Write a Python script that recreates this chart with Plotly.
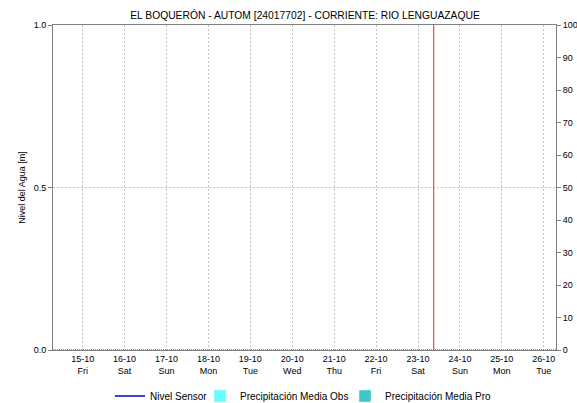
import plotly.graph_objects as go

# ---- data ----
title_text = "EL BOQUERÓN - AUTOM [24017702] - CORRIENTE: RIO LENGUAZAQUE"
day_dates = ["2021-10-15", "2021-10-16", "2021-10-17", "2021-10-18", "2021-10-19", "2021-10-20",
             "2021-10-21", "2021-10-22", "2021-10-23", "2021-10-24", "2021-10-25", "2021-10-26"]
day_labels = ["15-10", "16-10", "17-10", "18-10", "19-10", "20-10",
              "21-10", "22-10", "23-10", "24-10", "25-10", "26-10"]
day_names = ["Fri", "Sat", "Sun", "Mon", "Tue", "Wed", "Thu", "Fri", "Sat", "Sun", "Mon", "Tue"]
x_range = ["2021-10-14 07:00", "2021-10-26 07:00"]
now_marker = "2021-10-23 09:00"

# no readings shown in the chart (all missing)
nivel_y = [None] * len(day_dates)
precip_obs_y = [None] * len(day_dates)
precip_pro_y = [None] * len(day_dates)

left_ticks = [0.0, 0.5, 1.0]
right_ticks = list(range(0, 101, 10))

FONT = "Liberation Sans, Arial, sans-serif"
AXIS_C = "#808080"
GRID_C = "#c4c4c4"
W, H = 577, 403

fig = go.Figure()
fig.add_trace(go.Scatter(x=day_dates, y=nivel_y, mode="lines", name="Nivel Sensor",
                         line=dict(color="#0000cc", width=1.5), legend="legend"))
fig.add_trace(go.Bar(x=day_dates, y=precip_obs_y, name="Precipitación Media Obs",
                     marker=dict(color="#66ffff"), yaxis="y2", legend="legend2"))
fig.add_trace(go.Bar(x=day_dates, y=precip_pro_y, name="Precipitación Media Pro",
                     marker=dict(color="#3cc8c8"), yaxis="y2", legend="legend3"))

# zero baseline (dotted) and current-time marker
fig.add_shape(type="line", xref="paper", x0=0, x1=1, yref="y", y0=0, y1=0,
              line=dict(color="#222222", width=1, dash="1px,1px"), layer="above")
fig.add_shape(type="line", xref="x", x0=now_marker, x1=now_marker, yref="paper", y0=0, y1=1,
              line=dict(color="#ff2020", width=1), layer="above")


def leg(text_start_px):
    return dict(orientation="h", x=(text_start_px - 40) / W, xanchor="left", xref="container",
                y=1 - 396 / H, yref="container", yanchor="middle",
                font=dict(size=10, family=FONT), itemwidth=30, tracegroupgap=0,
                bgcolor="rgba(0,0,0,0)", borderwidth=0)


fig.update_layout(
    width=W, height=H,
    margin=dict(l=53, r=21, t=25, b=53, autoexpand=False),
    paper_bgcolor="white", plot_bgcolor="white",
    font=dict(family=FONT, size=9, color="#000000"),
    title=dict(text=title_text, x=305 / W, xanchor="center", y=1 - 15 / H,
               yanchor="middle", font=dict(size=10.3, family=FONT, color="#000000")),
    showlegend=True,
    legend=leg(150), legend2=leg(240), legend3=leg(385),
    xaxis=dict(type="date", range=x_range, tickvals=day_dates,
               ticktext=[f"{a}<br>{b}" for a, b in zip(day_labels, day_names)],
               showgrid=True, gridcolor=GRID_C, griddash="2px,2px", gridwidth=1,
               showline=True, linecolor=AXIS_C, mirror=True, ticks="",
               tickfont=dict(size=9), zeroline=False, automargin=False),
    yaxis=dict(range=[0, 1], tickvals=left_ticks, ticktext=[f"{v:.1f}" for v in left_ticks],
               showgrid=True, gridcolor=GRID_C, griddash="2px,2px", zeroline=False,
               showline=True, linecolor=AXIS_C, ticks="outside", ticklen=4, tickcolor=AXIS_C,
               title=dict(text="Nivel del Agua [m]", font=dict(size=9), standoff=6),
               tickfont=dict(size=9), automargin=False),
    yaxis2=dict(range=[0, 100], tickvals=right_ticks, overlaying="y", side="right",
                showgrid=False, zeroline=False, showline=True, linecolor=AXIS_C,
                ticks="outside", ticklen=4, tickcolor=AXIS_C, tickfont=dict(size=9),
                automargin=False),
    bargap=0,
)

fig.write_html("out.html", config={"displayModeBar": False},
               post_script="document.body.style.margin='0';")
